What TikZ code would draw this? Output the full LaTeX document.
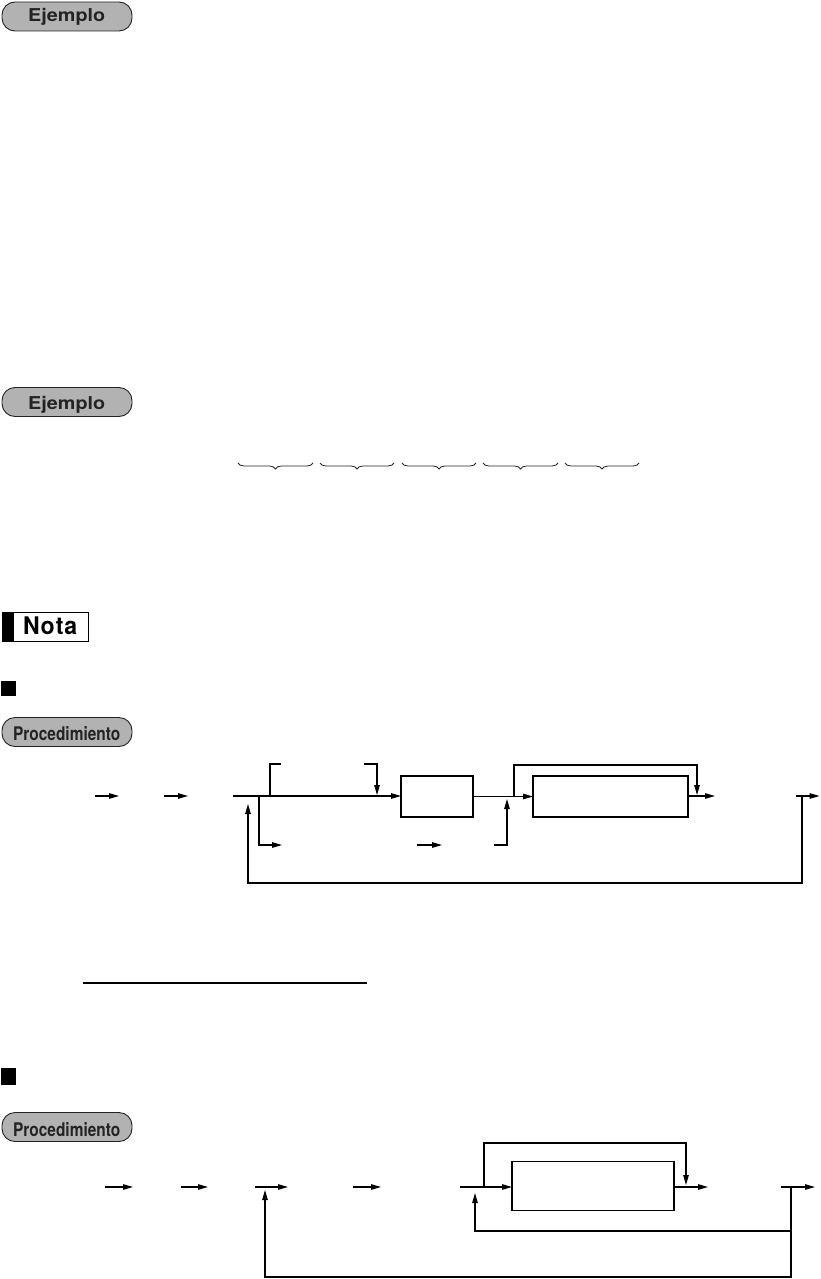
\documentclass[tikz,border=0pt]{standalone}
\usepackage{fontspec}
\setsansfont{TeX Gyre Heros}
\usetikzlibrary{arrows.meta,decorations.pathreplacing,calc}
\definecolor{badgegray}{RGB}{178,178,178}
\definecolor{badgeline}{RGB}{35,35,35}
\begin{document}
\begin{tikzpicture}[x=1pt,y=-1pt,
  ln/.style={line width=1.1pt},
  arr/.style={ln,-{Triangle[length=10pt,width=5.5pt]}},
  boxs/.style={draw,line width=1.1pt,inner sep=0pt,outer sep=0pt},
  badge/.style={draw=badgeline,fill=badgegray,line width=0.9pt,rounded corners=13pt,
     minimum width=130pt,minimum height=29pt,inner sep=0pt},
  badgetxt/.style={anchor=base west,inner sep=0pt,text=badgeline,font=\sffamily\bfseries},
  brc/.style={decorate,decoration={brace,amplitude=6pt,mirror},line width=0.8pt,draw=black!85}
]
\useasboundingbox (0,0) rectangle (820,1279);

% ---- badges ----
\node[badge] (ej1) at (67,16.5) {};
\node[badgetxt] (ej1t) at (28,21.9) {\resizebox{77pt}{13.2pt}{Ejemplo}};
\node[badge] (ej2) at (67,402) {};
\node[badgetxt] (ej2t) at (28,409.5) {\resizebox{77pt}{13.2pt}{Ejemplo}};
\node[badge] (pr1) at (67,732) {};
\node[badgetxt] (pr1t) at (13,740) {\resizebox{107pt}{14pt}{Procedimiento}};
\node[badge] (pr2) at (67,1127) {};
\node[badgetxt] (pr2t) at (13,1136) {\resizebox{107pt}{14pt}{Procedimiento}};

% ---- braces ----
\draw[brc] (238,463) -- (313,463);
\draw[brc] (320,463) -- (394,463);
\draw[brc] (402,463) -- (476,463);
\draw[brc] (483,463) -- (558,463);
\draw[brc] (565,463) -- (639,463);

% ---- Nota ----
\draw[line width=1pt] (2,612) rectangle (88,641);
\fill (2,612) rectangle (14,641);
\node[anchor=base west,inner sep=0pt,font=\sffamily\bfseries] (nota) at (23,634) {\resizebox{54pt}{17.7pt}{N\kern0.04em o\kern0.04em t\kern0.04em a}};

% ---- black squares ----
\fill (1,681) rectangle (16,696);
\fill (1,1068) rectangle (16,1085);

% ---- underline ----
\coordinate (ul1) at (83,983);
\coordinate (ul2) at (367,983);
\draw[line width=1.2pt] (ul1) -- (ul2);

% ================= diagram 1 =================
\node[boxs,minimum width=72pt,minimum height=41pt] (b1) at (437,796.5) {};
\node[boxs,minimum width=155pt,minimum height=41pt] (b2) at (610.5,796.5) {};

\coordinate (d1a) at (95,796);  \coordinate (d1b) at (119,796);
\coordinate (d1c) at (164,796); \coordinate (d1d) at (188,796);
\draw[arr] (d1a) -- (d1b);
\draw[arr] (d1c) -- (d1d);

\coordinate (m1) at (233,796);
\draw[arr] (m1) -- (b1.west|-m1);

% upper branch
\coordinate (u1) at (270,796); \coordinate (u2) at (281,764);
\draw[ln] (u1) |- (u2);
\coordinate (u3) at (364,764); \coordinate (u4) at (377,795);
\draw[arr] (u3) -| (u4);

% lower branch
\coordinate (l1) at (259,796); \coordinate (l2) at (282,845);
\draw[arr] (l1) |- (l2);
\coordinate (l3) at (417,845); \coordinate (l4) at (442,845);
\draw[arr] (l3) -- (l4);

% box1 -> box2
\draw[arr] (b1.east) -- (b2.west);

% over box2
\coordinate (o1) at (514,796.5); \coordinate (o2) at (697,765); \coordinate (o3) at (697,795);
\draw[arr] (o1) |- (o2) -- (o3);

% lower into main line
\coordinate (k1) at (494,845); \coordinate (k2) at (507,799);
\draw[arr] (k1) -| (k2);

% out of box2
\coordinate (e1) at (715,796);
\draw[arr] (b2.east|-e1) -- (e1);

\coordinate (r1) at (796,796); \coordinate (r2) at (819.5,796);
\draw[arr] (r1) -- (r2);

% feedback
\coordinate (f1) at (802,796); \coordinate (f2) at (248,883); \coordinate (f3) at (248,804);
\draw[arr] (f1) |- (f2) -- (f3);

% ================= diagram 2 =================
\node[boxs,minimum width=162pt,minimum height=49pt] (b3) at (593,1186) {};

\coordinate (g1) at (105,1187); \coordinate (g2) at (133,1187);
\coordinate (g3) at (181,1187); \coordinate (g4) at (208,1187);
\coordinate (g5) at (255,1187); \coordinate (g6) at (288,1187);
\coordinate (g7) at (353,1187); \coordinate (g8) at (381,1187);
\draw[arr] (g1) -- (g2);
\draw[arr] (g3) -- (g4);
\draw[arr] (g5) -- (g6);
\draw[arr] (g7) -- (g8);

\coordinate (h1) at (460,1187);
\draw[arr] (h1) -- (b3.west|-h1);

\coordinate (v1) at (484,1187); \coordinate (v2) at (686,1143); \coordinate (v3) at (686,1185);
\draw[arr] (v1) |- (v2) -- (v3);

\coordinate (x1) at (708,1187);
\draw[arr] (b3.east|-x1) -- (x1);

\coordinate (y1) at (781,1187); \coordinate (y2) at (815,1187);
\draw[arr] (y1) -- (y2);

\coordinate (z1) at (791,1187); \coordinate (z2) at (265,1277); \coordinate (z3) at (265,1190);
\draw[arr] (z1) |- (z2) -- (z3);

\coordinate (w1) at (791,1231); \coordinate (w2) at (475,1193);
\draw[arr] (w1) -| (w2);
\end{tikzpicture}
\end{document}
